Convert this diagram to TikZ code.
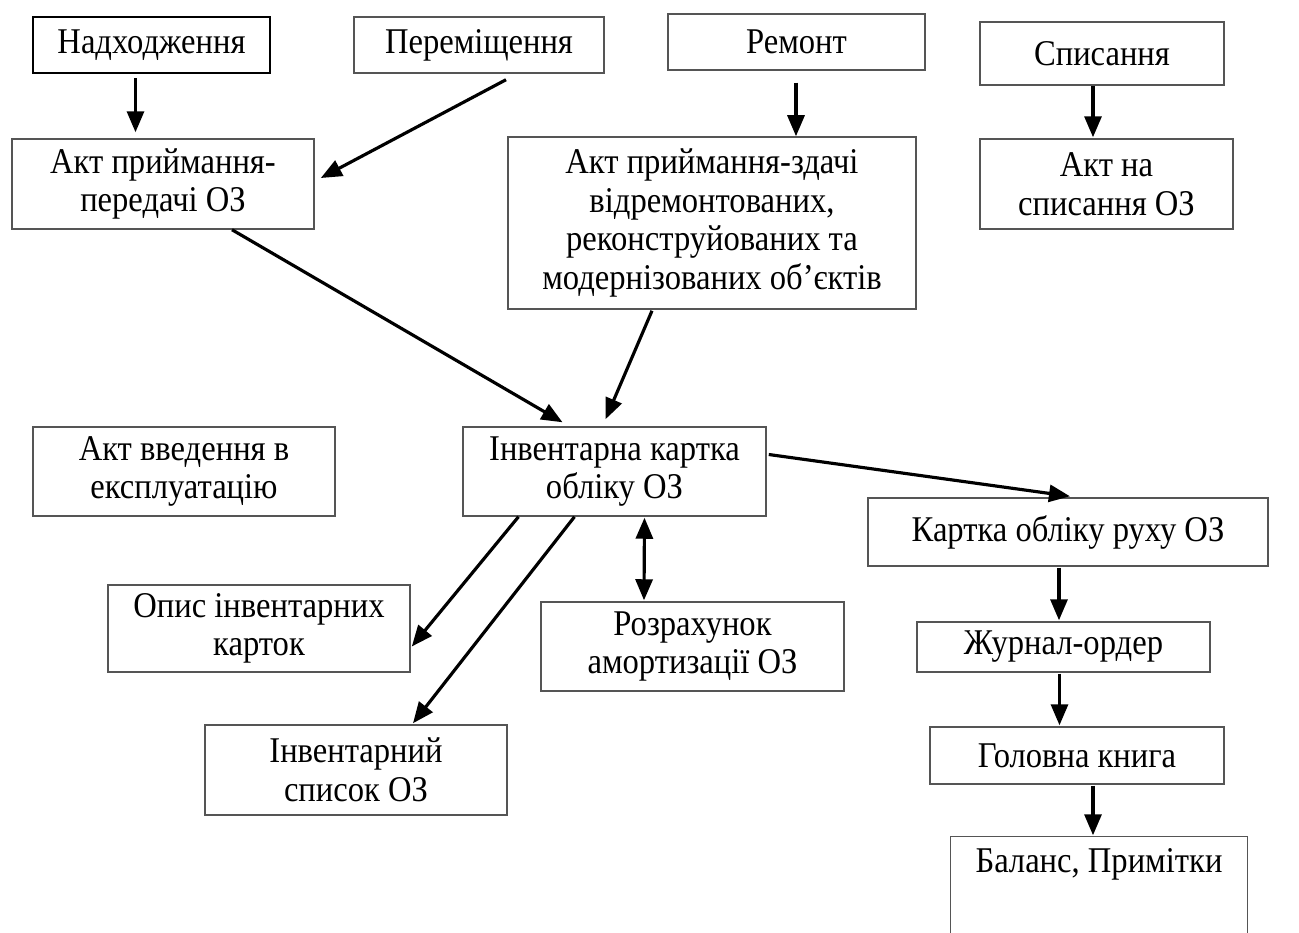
\documentclass[tikz,border=0pt]{standalone}
\usepackage{fontspec}
\setmainfont{Liberation Serif}[FakeStretch=0.9]
\usetikzlibrary{arrows.meta,calc}
\definecolor{boxgray}{HTML}{555555}
\begin{document}
\begin{tikzpicture}[x=0.01cm,y=-0.01cm,
  box/.style={draw=boxgray, line width=0.4pt, align=center, inner sep=0pt,
    font=\fontsize{10.3}{11}\selectfont},
  arr/.style={line width=0.9pt, -{Triangle[length=2.1mm,width=1.7mm]}},
  dbl/.style={line width=0.9pt, {Triangle[length=2.1mm,width=1.7mm]}-{Triangle[length=2.1mm,width=1.7mm]}}]
\fill[white] (0,0) rectangle (1299,933);
\useasboundingbox (0,0) rectangle (1299,933);

\node[box, draw=black, line width=0.7pt, minimum width=2.37cm, minimum height=0.56cm] (nadh) at (151.5,45) {Надходження};
\node[box, minimum width=2.50cm, minimum height=0.56cm] (perem) at (479,45) {Переміщення};
\node[box, minimum width=2.57cm, minimum height=0.56cm] (remont) at (796.5,42) {Ремонт};
\node[box, minimum width=2.44cm, minimum height=0.63cm] (spys) at (1102,53.5) {Списання};
\node[box, minimum width=3.02cm, minimum height=0.90cm] (aktpp) at (163,184) {Акт приймання-\\передачі ОЗ};
\node[box, minimum width=4.08cm, minimum height=1.72cm] (aktrem) at (712,223) {Акт приймання-здачі\\відремонтованих,\\реконструйованих та\\модернізованих об’єктів};
\node[box, minimum width=2.53cm, minimum height=0.90cm] (aktsp) at (1106.5,184) {Акт на\\списання ОЗ};
\node[box, minimum width=3.02cm, minimum height=0.89cm] (aktvv) at (184,471.5) {Акт введення в\\експлуатацію};
\node[box, minimum width=3.03cm, minimum height=0.89cm] (inv) at (614.5,471.5) {Інвентарна картка\\обліку ОЗ};
\node[box, minimum width=4.00cm, minimum height=0.68cm] (kartka) at (1068,532) {Картка обліку руху ОЗ};
\node[box, minimum width=3.02cm, minimum height=0.87cm] (opys) at (259,628.5) {Опис інвентарних\\карток};
\node[box, minimum width=3.03cm, minimum height=0.89cm] (rozr) at (692.5,646.5) {Розрахунок\\амортизації ОЗ};
\node[box, minimum width=2.93cm, minimum height=0.50cm] (zhurn) at (1063.5,647) {\raisebox{-0.6mm}{Журнал-ордер}};
\node[box, minimum width=3.02cm, minimum height=0.90cm] (invsp) at (356,770) {Інвентарний\\список ОЗ};
\node[box, minimum width=2.94cm, minimum height=0.57cm] (holov) at (1077,755.5) {Головна книга};
\node[box, draw=none, minimum width=2.96cm, minimum height=0.96cm] (balans) at (1099,885) {\raisebox{-0.8mm}{Баланс, Примітки}\\\strut};
\draw[boxgray, line width=0.4pt] (balans.south west) -- (balans.north west) -- (balans.north east) -- (balans.south east);

\draw[arr] ($(nadh.south)+(-16,4)$) -- ($(aktpp.north)+(-27.5,-6)$);
\draw[arr] ($(perem.south)+(27,6)$) -- ($(aktpp.east)+(6,-6)$);
\draw[arr] ($(remont.south)+(-0.5,12)$) -- ($(aktrem.north)+(84,0)$);
\draw[arr] ($(spys.south)+(-9,0)$) -- ($(aktsp.north)+(-13.5,-1)$);
\draw[arr] ($(aktpp.south)+(69,0)$) -- ($(inv.north)+(-52,-4)$);
\draw[arr] ($(aktrem.south)+(-60,1)$) -- ($(inv.north)+(-9,-7)$);
\draw[arr] ($(inv.east)+(2,-17)$) -- ($(kartka.north)+(2,-1)$);
\draw[arr] ($(inv.south)+(-96,0)$) -- ($(opys.east)+(1,18)$);
\draw[arr] ($(inv.south)+(-40,0)$) -- ($(invsp.north)+(57,-1)$);
\draw[dbl] ($(inv.south)+(30,1)$) -- ($(rozr.north)+(-48.5,-1)$);
\draw[arr] ($(kartka.south)+(-9,1)$) -- ($(zhurn.north)+(-4.5,-1)$);
\draw[arr] ($(zhurn.south)+(-4,1)$) -- ($(holov.north)+(-17.5,-1)$);
\draw[arr] ($(holov.south)+(16,1)$) -- ($(balans.north)+(-6,-1)$);
\end{tikzpicture}
\end{document}
